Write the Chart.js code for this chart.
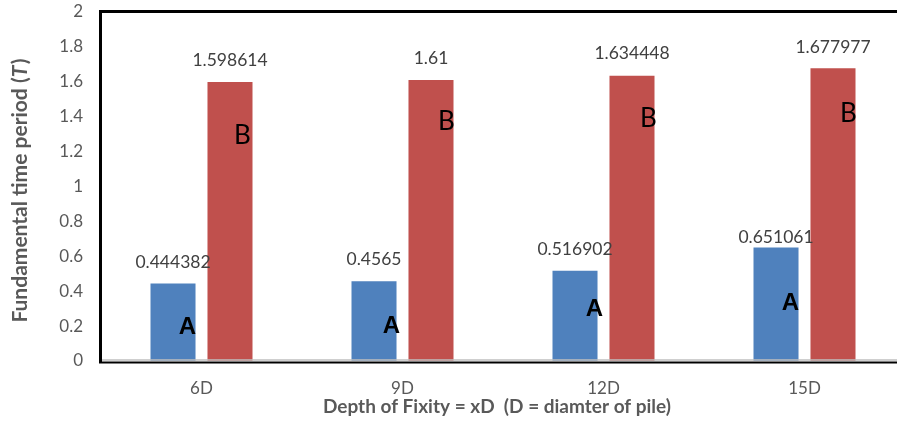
<!DOCTYPE html>
<html>
<head>
<meta charset="utf-8">
<script src="https://cdn.jsdelivr.net/npm/chart.js@4/dist/chart.umd.min.js"></script>
<style>
  html, body { margin: 0; padding: 0; overflow: hidden; background: #fff; width: 897px; height: 427px; }
  #wrap { position: absolute; left: 0; top: 0; width: 930px; height: 427px; }
</style>
</head>
<body>
<div id="wrap"><canvas id="c" width="930" height="427"></canvas></div>
<script>
// Pile fixity depth vs. fundamental period
const categories = ['6D', '9D', '12D', '15D'];
const seriesA = [0.444382, 0.4565, 0.516902, 0.651061];
const seriesB = [1.598614, 1.61, 1.634448, 1.677977];
const yMin = 0, yMax = 2, yStep = 0.2;

// Hand-placed "A" / "B" markers (height in axis units) beside each bar
const markA = [0.195, 0.2, 0.298, 0.332];
const markB = [1.29, 1.37, 1.39, 1.42];
const markAShift = [14.5, 17.5, 19.5, 14.5];
const markBShift = [12.5, 15.5, 16.5, 15.5];
// gap between bar top and its value label (px)
const liftA = [21, 22, 21, 10];
const liftB = [22, 22, 22, 21];

const GREY = '#595959';
const TXT = '#404040';

const frame = {
  id: 'frame',
  afterDatasetsDraw(chart) {
    const { ctx, chartArea: a } = chart;
    ctx.save();
    // grey category axis line
    ctx.strokeStyle = '#bfbfbf';
    ctx.lineWidth = 1.5;
    ctx.beginPath();
    ctx.moveTo(a.left, 360);
    ctx.lineTo(a.right, 360);
    ctx.stroke();
    // black plot border
    ctx.strokeStyle = '#000';
    ctx.lineWidth = 3;
    ctx.beginPath();
    ctx.moveTo(a.left - 0.5, 362.5);
    ctx.lineTo(a.left - 0.5, a.top - 0.5);
    ctx.lineTo(a.right, a.top - 0.5);
    ctx.lineTo(a.right, 362.5);
    ctx.stroke();
    ctx.lineWidth = 2;
    ctx.beginPath();
    ctx.moveTo(a.left - 2, 362.5);
    ctx.lineTo(a.right, 362.5);
    ctx.stroke();

    // value labels
    ctx.fillStyle = TXT;
    ctx.font = '17.5px Lato';
    ctx.textAlign = 'center';
    ctx.textBaseline = 'middle';
    const lifts = [liftA, liftB];
    chart.data.datasets.forEach((ds, di) => {
      chart.getDatasetMeta(di).data.forEach((bar, i) => {
        ctx.fillText(String(ds.data[i]), bar.x, bar.y - lifts[di][i]);
      });
    });

    // A / B markers
    const y = chart.scales.y;
    const barsA = chart.getDatasetMeta(0).data;
    const barsB = chart.getDatasetMeta(1).data;
    ctx.fillStyle = '#000';
    ctx.font = 'bold 24px "Liberation Sans"';
    barsA.forEach((bar, i) => ctx.fillText('A', bar.x + markAShift[i], y.getPixelForValue(markA[i])));
    ctx.font = '26px Lato';
    barsB.forEach((bar, i) => ctx.fillText('B', bar.x + markBShift[i], y.getPixelForValue(markB[i])));
    ctx.restore();
  },
  afterDraw(chart) {
    const { ctx, chartArea: a } = chart;
    ctx.save();
    ctx.fillStyle = GREY;
    ctx.textBaseline = 'middle';
    // x axis title
    ctx.textAlign = 'center';
    ctx.font = 'bold 19px Lato';
    ctx.fillText('Depth of Fixity = xD  (D = diamter of pile)', 497, 407);
    // y axis title with italic symbol
    const f = '21px Lato';
    const parts = [
      ['Fundamental time period (', 'bold ' + f],
      ['T', 'italic bold ' + f],
      [')', 'bold ' + f]
    ];
    let total = 0;
    parts.forEach(p => { ctx.font = p[1]; total += ctx.measureText(p[0]).width + (p[0] === 'T' ? 1.5 : 0); });
    ctx.translate(20, (a.top + a.bottom) / 2 + 4);
    ctx.rotate(-Math.PI / 2);
    ctx.textAlign = 'left';
    let x = -total / 2;
    parts.forEach(p => {
      ctx.font = p[1];
      ctx.fillText(p[0], x, 0);
      x += ctx.measureText(p[0]).width + (p[0] === 'T' ? 1.5 : 0);
    });
    ctx.restore();
  }
};

new Chart(document.getElementById('c'), {
  type: 'bar',
  data: {
    labels: categories,
    datasets: [
      { label: 'A', data: seriesA, backgroundColor: '#4f81bd', categoryPercentage: 0.567, barPercentage: 0.79 },
      { label: 'B', data: seriesB, backgroundColor: '#c0504d', categoryPercentage: 0.567, barPercentage: 0.79 }
    ]
  },
  options: {
    responsive: false,
    devicePixelRatio: 1,
    animation: false,
    layout: { padding: { top: 12, right: 25, left: 0, bottom: 0 } },
    plugins: { legend: { display: false }, tooltip: { enabled: false } },
    scales: {
      x: {
        grid: { display: false, drawTicks: false },
        border: { display: false },
        ticks: { color: GREY, font: { family: 'Lato', size: 17 }, padding: 17 },
        afterFit(s) { s.height = 66; s.paddingLeft = 0; s.paddingRight = 0; }
      },
      y: {
        min: yMin, max: yMax,
        grid: { display: false, drawTicks: false },
        border: { display: false },
        ticks: {
          stepSize: yStep, color: GREY, font: { family: 'Lato', size: 17 }, padding: 18,
          callback: v => String(+v.toFixed(1))
        },
        afterFit(s) { s.width = 101; s.paddingTop = 0; s.paddingBottom = 0; }
      }
    }
  },
  plugins: [frame]
});
</script>
</body>
</html>
